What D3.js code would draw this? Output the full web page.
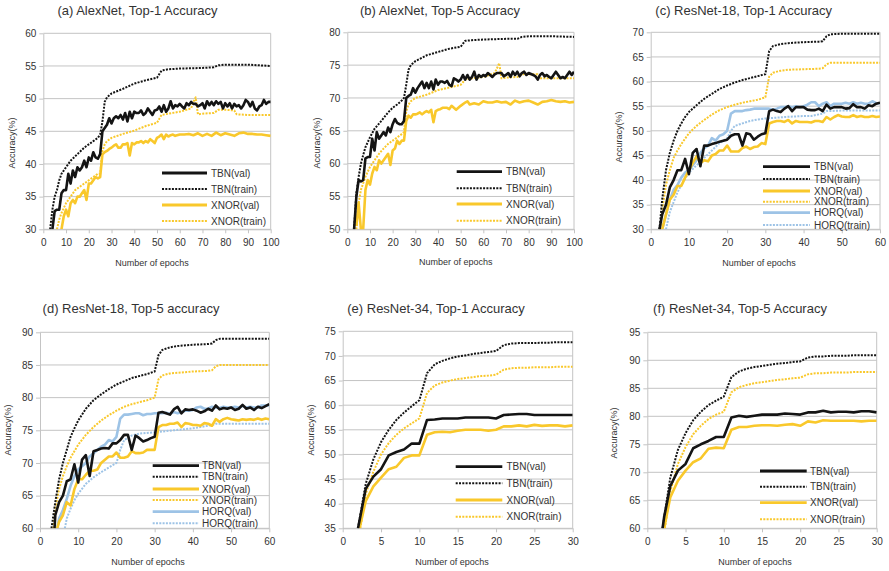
<!DOCTYPE html>
<html>
<head>
<meta charset="utf-8">
<script src="https://cdn.jsdelivr.net/npm/d3@7"></script>
<style>
  body { margin: 0; background: #fff; }
  svg { font-family: "Liberation Sans", Arial, sans-serif; }
</style>
</head>
<body>
<svg id="chart" width="889" height="571"></svg>
<script>
// [epoch, accuracy] pairs

// (a) AlexNet top-1
const aTbnVal = [[4,30],[5,32.8],[6,33],[7,33],[8,35.5],[9,36],[10,36],[11,38.5],[12,37],[13,39],[14,38],[15,39.5],[16,39],[17,39.5],[18,40.5],[19,39.5],[20,41],[21,40.5],[22,41.8],[23,41],[24,40.8],[25,41.5],[26,45],[27,45.5],[28,46],[29,47],[30,46.2],[31,47],[32,47.3],[33,47],[34,47.5],[35,46.8],[36,47.8],[37,46.5],[38,48],[39,47],[40,48],[41,47.8],[42,47.8],[43,48.2],[44,47.5],[45,47.8],[46,48.5],[47,48],[48,47.5],[49,48.2],[50,48.3],[51,48.8],[52,48],[53,49],[54,48],[55,48.5],[56,49.6],[57,48.5],[58,49],[59,48.8],[60,49.2],[61,48.8],[62,48.5],[63,49.3],[64,49],[65,49.5],[66,49.2],[67,49.2],[68,48.8],[69,49],[70,49.3],[71,48.5],[72,49.6],[73,49],[74,49.5],[75,49],[76,49.6],[77,49.2],[78,49.5],[79,48.5],[80,49.3],[81,48.8],[82,49.3],[83,48.5],[84,49.2],[85,48.8],[86,49],[87,48.5],[88,49],[89,49.8],[90,49.5],[91,48.8],[92,49.5],[93,48.5],[94,48.2],[95,48.8],[96,49],[97,49.8],[98,49.2],[99,49.5],[100,49.5]];
const aTbnTrain = [[3,30],[4,33],[5,35],[6,36],[7,37.5],[8,38.5],[10,39.5],[12,40.5],[15,41.5],[18,42.5],[20,43],[22,43.5],[24,44],[25,44.5],[26,46.5],[27,49.5],[28,50.2],[30,50.8],[35,51.5],[40,52.3],[45,52.8],[50,53.2],[52,54.3],[55,54.5],[60,54.6],[70,54.7],[75,54.8],[77,55.1],[80,55.2],[90,55.2],[100,55]];
const aXnorVal = [[8,30],[9,32],[10,33],[11,32],[12,34],[13,34.5],[14,34],[15,35],[16,35],[17,35.5],[18,36],[19,34.5],[20,37],[21,37],[22,37.5],[23,38],[24,37.8],[25,38],[26,41.5],[27,41.8],[28,42],[29,42.3],[30,42.5],[31,42.8],[32,43],[33,42.5],[34,42.5],[35,43],[36,43],[37,43.2],[38,41.3],[39,43.2],[40,43],[41,43.3],[42,43.3],[43,43.5],[44,43.2],[45,43.5],[46,43.3],[47,43.8],[48,43.5],[49,43.2],[50,44],[51,44.2],[52,44.5],[53,43.8],[54,44.5],[55,44.2],[56,44.4],[57,44.5],[58,44.3],[60,44.5],[62,44.5],[64,44.6],[66,44.4],[68,44.7],[70,44.3],[72,44.6],[74,44.3],[76,44.8],[78,44.4],[80,44.7],[82,44.5],[84,44.3],[86,44.7],[88,44.8],[90,44.6],[92,44.6],[94,44.5],[96,44.5],[98,44.4],[100,44.3]];
const aXnorTrain = [[6,30],[7,31.5],[8,32.5],[10,34],[12,35],[14,36],[16,36.5],[18,37],[20,37.5],[22,38],[24,38.5],[25,38.5],[26,42],[27,43],[28,43.5],[30,44],[35,44.6],[40,45.1],[45,45.8],[50,46.3],[52,47.5],[55,47.7],[60,48],[65,48.5],[66,49.5],[67,50.2],[68,47.6],[70,47.7],[75,47.8],[77,48.3],[80,48.3],[84,48.2],[85,47.6],[90,47.5],[100,47.5]];

// (b) AlexNet top-5
const bTbnVal = [[3,50],[4,55],[5,57.5],[6,57.3],[7,57.5],[8,60.8],[9,61],[10,61],[11,63.8],[12,62],[13,64.8],[14,63.8],[15,64.3],[16,64.8],[17,64.3],[18,65.5],[19,64.8],[20,66],[21,66.8],[22,66.2],[23,66],[24,66],[25,66.5],[26,70],[27,70.3],[28,70.5],[29,71.5],[30,70.8],[31,71.5],[32,72],[33,72.5],[34,71.5],[35,72.3],[36,71.5],[37,72.5],[38,71.3],[39,72.8],[40,72],[41,72.5],[42,72.5],[43,72.3],[44,72.6],[45,72],[46,71.8],[47,73],[48,72.8],[49,72.5],[50,72.8],[51,73.5],[52,72.8],[53,73.5],[54,72.8],[55,73.2],[56,74],[57,72.8],[58,73.5],[59,73.2],[60,73.5],[61,73.3],[62,73.8],[63,73.5],[64,73.2],[65,73.6],[66,73.8],[68,73.8],[69,73.3],[70,73.5],[71,73.8],[72,73.2],[73,74],[74,73.5],[75,74],[76,73.3],[77,73.8],[78,74],[79,73.5],[80,73.8],[82,73.5],[83,73.3],[84,72.8],[85,73.5],[86,73.8],[87,73.3],[88,73.5],[89,73.2],[90,73],[91,73.5],[92,74],[93,73.5],[94,73],[95,73.2],[96,73],[97,73.5],[98,74],[99,73.5],[100,74]];
const bTbnTrain = [[3,50],[4,55.5],[5,58],[6,60],[7,61.3],[8,62.5],[10,64],[12,65.3],[15,66.5],[18,67.8],[20,68.5],[22,69],[24,69.6],[25,70],[26,72],[27,74.3],[28,75],[30,75.6],[35,76.5],[40,77],[45,77.5],[50,77.8],[52,78.7],[55,78.8],[60,78.9],[70,79],[75,79],[77,79.3],[80,79.4],[90,79.4],[100,79.3]];
const bXnorVal = [[4,50.5],[5,54],[6,50],[7,50],[8,56],[9,57.5],[10,56.8],[11,58.5],[12,59.5],[13,59],[14,60.5],[15,60],[16,60.5],[17,61],[18,61.5],[19,59.8],[20,62],[21,62.3],[22,63.5],[23,63],[24,63.5],[25,63.5],[26,66.5],[27,67.3],[28,67],[29,67.5],[30,67.5],[31,67.6],[32,67.8],[33,67.5],[34,67.8],[35,68],[36,67.8],[37,68.2],[38,66.3],[39,68],[40,68.2],[41,68.3],[42,68.5],[44,68.5],[45,68.3],[46,68.8],[47,68.5],[48,68.2],[49,68.5],[50,68.8],[52,69.3],[53,69.5],[54,69],[56,69.2],[58,69],[60,69.5],[62,69.3],[64,69.3],[66,69.5],[68,69.3],[70,69.4],[72,69],[74,69.6],[76,69.3],[78,69.5],[80,69.6],[82,69.3],[84,69],[86,69.4],[88,69.5],[90,69.7],[92,69.5],[94,69.4],[96,69.5],[98,69.3],[100,69.4]];
const bXnorTrain = [[4,50],[5,54],[6,56],[8,58],[10,59.5],[12,60.5],[14,61.5],[16,62.3],[18,63],[20,63.5],[22,64],[24,64.5],[25,64.8],[26,68],[27,69],[28,69.5],[30,70],[35,70.5],[40,71.2],[45,71.6],[50,72],[52,72.8],[55,73],[60,73.2],[65,73.8],[66,74.5],[67,75.3],[68,73],[70,73.1],[75,73.2],[77,73.6],[80,73.6],[84,73.6],[85,73],[90,73],[100,73]];

// (c) ResNet-18 top-1
const cTbnVal = [[2.3,30],[3,33],[4,35],[5,38.5],[6,40],[7,42],[8,42],[9,44.3],[10,41.2],[11,45.5],[12,46.3],[13,42.8],[14,47],[15,47],[16,47.3],[17,47.5],[18,47.8],[19,48],[20,48.2],[21,49],[22,49.3],[23,49.3],[24,47],[25,49.5],[26,49.3],[27,48.2],[28,48.8],[29,49.3],[30,49.5],[31,54],[32,54.3],[33,54],[34,53.8],[35,54.5],[36,55],[37,54],[38,54.8],[39,54.8],[40,54.8],[41,54.3],[42,54.2],[43,54.2],[44,54.5],[45,54],[46,55.3],[47,54.5],[48,54.8],[49,54.8],[50,54.8],[51,54.5],[52,54.6],[53,55.4],[54,54.8],[55,54.8],[56,54.5],[57,55.2],[58,55],[59,55.5],[60,55.7]];
const cTbnTrain = [[2.3,30],[3,36],[4,42],[5,45.5],[6,48],[7,50],[8,51.5],[9,52.8],[10,53.8],[12,55.2],[14,56.5],[16,57.5],[18,58.5],[20,59.2],[22,59.8],[24,60.3],[26,60.7],[28,61.1],[30,61.5],[31,66.2],[32,67.2],[34,67.6],[36,67.8],[40,68],[44,68.1],[45,68.2],[46,69.2],[47,69.6],[50,69.7],[55,69.7],[60,69.7]];
const cXnorVal = [[3,30],[4,33],[5,36],[6,37],[7,38.8],[8,38.8],[9,40.5],[10,42],[11,43.5],[12,44.8],[13,43.5],[14,44],[15,43.8],[16,45],[17,45.3],[18,46],[19,46],[20,47],[21,45.8],[22,45.8],[23,45.8],[24,46.5],[25,46.8],[26,46.3],[27,46.7],[28,46.8],[29,47.5],[30,47.3],[31,51.5],[32,51.8],[33,52],[34,52],[35,51.8],[36,52.2],[37,51.5],[38,52],[39,51.8],[40,51.8],[41,51.8],[42,51.7],[43,52],[44,52],[45,51.8],[46,52.8],[47,52.3],[48,52.8],[49,53.2],[50,52.9],[51,52.8],[52,52.8],[53,53.2],[54,52.8],[55,53],[56,52.8],[57,52.8],[58,53],[59,52.8],[60,52.9]];
const cXnorTrain = [[2.5,30],[3,34],[4,39],[5,42],[6,44.5],[7,46],[8,47.3],[10,49.5],[12,51],[14,52.2],[16,53.3],[18,54.2],[20,54.8],[22,55.3],[24,55.7],[26,56],[28,56.3],[30,56.8],[31,61],[32,61.8],[34,62.2],[36,62.4],[40,62.5],[44,62.6],[45,62.7],[46,63.5],[47,63.8],[50,63.8],[55,63.8],[60,63.8]];
const cHorqVal = [[3,30],[4,33],[5,36],[6,38],[7,39],[8,40.5],[9,41.5],[10,42],[11,43],[12,44],[13,45.5],[14,46.5],[15,47],[16,48.5],[17,48],[18,49],[19,49.3],[20,50],[21,53.5],[22,54],[23,54],[24,54],[25,54.2],[26,54.3],[27,54.5],[28,54.5],[29,54.5],[30,54.5],[31,54.5],[32,54.3],[33,54.5],[34,54.8],[35,54.8],[36,55],[37,54.8],[38,55],[39,54.8],[40,55],[41,55.3],[42,55.8],[43,55.8],[44,55],[45,55.5],[46,55.8],[47,55],[48,55.5],[49,55.5],[50,55.5],[51,55.7],[52,55.5],[53,55.8],[54,55.5],[55,55.7],[56,55.5],[57,55.5],[58,56],[59,55.6],[60,55.6]];
const cHorqTrain = [[4,30],[5,33.5],[6,35.5],[7,37.5],[8,39],[10,41.5],[12,43],[14,44.5],[16,46],[18,47.5],[20,48.5],[21,50],[22,51],[24,51.5],[26,52],[28,52.3],[30,52.5],[35,52.8],[40,53],[42,53],[45,53.5],[46,54],[50,54.1],[55,54.1],[60,54.1]];

// (d) ResNet-18 top-5
const dTbnVal = [[3.8,60],[4,62],[5,64],[6,65],[7,67.2],[8,67.5],[9,69.8],[10,67],[11,70.5],[12,71.2],[13,68],[14,71.8],[15,72],[16,72.2],[17,72.3],[18,72.2],[19,73],[20,73],[21,73.5],[22,74.3],[23,74.3],[24,72],[25,74.2],[26,73.8],[27,73.3],[28,73.5],[29,73.8],[30,74],[31,77.7],[32,77.8],[33,77.6],[34,77.4],[35,78.2],[36,78.6],[37,77.6],[38,78.2],[39,78.1],[40,78.2],[41,78],[42,77.7],[43,77.9],[44,78.3],[45,78],[46,78.8],[47,78.2],[48,78.4],[49,78.3],[50,78.5],[51,78.1],[52,78.3],[53,78.9],[54,78.3],[55,78.5],[56,78.1],[57,78.6],[58,78.4],[59,78.7],[60,79]];
const dTbnTrain = [[3,60],[4,64],[5,67.5],[6,70],[7,72],[8,74],[9,75.3],[10,76.5],[12,78.3],[14,79.6],[16,80.5],[18,81.3],[20,82],[22,82.5],[24,83],[26,83.3],[28,83.6],[30,84],[31,86.5],[32,87.3],[34,87.7],[36,87.9],[40,88.1],[44,88.2],[45,88.3],[46,88.8],[47,89],[50,89],[55,89],[60,89]];
const dXnorVal = [[4.5,60],[5,61],[6,62],[7,64],[8,63.5],[9,66],[10,67.5],[11,67.5],[12,68.2],[13,68.8],[14,68.8],[15,69],[16,70],[17,70.5],[18,71],[19,71],[20,71.6],[21,70.8],[22,70.8],[23,71],[24,71.8],[25,71.5],[26,71.5],[27,71.6],[28,72],[29,72],[30,72],[31,75.5],[32,75.8],[33,75.8],[34,76],[35,76],[36,76.2],[37,75.5],[38,76.1],[39,76],[40,75.8],[41,75.8],[42,75.7],[43,76.1],[44,76],[45,75.7],[46,76.7],[47,76.3],[48,76.7],[49,76.9],[50,76.7],[51,76.6],[52,76.5],[53,76.7],[54,76.6],[55,76.7],[56,76.6],[57,76.8],[58,76.6],[59,76.8],[60,76.7]];
const dXnorTrain = [[3.5,60],[4,63],[5,66],[6,68],[7,69.5],[8,70.8],[10,72.8],[12,74.3],[14,75.5],[16,76.5],[18,77.3],[20,78],[22,78.6],[24,79],[26,79.3],[28,79.6],[30,80],[31,82.8],[32,83.4],[34,83.7],[36,83.8],[40,84],[44,84.1],[45,84.2],[46,84.8],[47,85],[50,85],[55,85],[60,85]];
const dHorqVal = [[4.5,60],[5,61.5],[6,62.8],[7,64.5],[8,66.5],[9,68],[10,69],[11,69.5],[12,70],[13,71],[14,71.5],[15,72],[16,72.5],[17,72.8],[18,73.5],[19,73.3],[20,74],[21,76.8],[22,77.4],[23,77.4],[24,77.5],[25,77.6],[26,77.6],[27,77.3],[28,77.5],[29,77.5],[30,77.6],[31,77.6],[32,77.6],[33,77.7],[34,77.5],[35,77.8],[36,77.6],[37,77.8],[38,78],[39,78],[40,78.1],[41,78.5],[42,78.6],[43,78.3],[44,78.3],[45,78.6],[46,78.5],[47,78.4],[48,78.6],[49,78.5],[50,78.5],[51,78.6],[52,78.5],[53,78.7],[54,78.5],[55,78.6],[56,78.5],[57,78.5],[58,78.8],[59,78.8],[60,78.8]];
const dHorqTrain = [[6.5,60],[7,61.5],[8,63],[9,64.3],[10,65.3],[12,66.8],[14,67.8],[16,68.6],[18,69.3],[20,70],[21,72],[22,73.5],[24,74.2],[26,74.5],[28,74.6],[30,74.7],[35,75],[40,75.3],[42,75.5],[45,75.8],[46,76],[50,76],[55,76],[60,76]];

// (e) ResNet-34 top-1
const eTbnVal = [[2,35],[3,43],[4,45.5],[5,47],[6,49.8],[7,50.5],[8,51],[9,52.2],[10,52.2],[11,57],[12,57.1],[13,57.3],[14,57.3],[15,57.3],[16,57.5],[17,57.5],[18,57.5],[19,57.5],[20,57.3],[21,58],[22,58.1],[23,58.2],[24,58.2],[25,58],[26,58],[27,58],[28,58],[29,58],[30,58]];
const eTbnTrain = [[2,35],[3,44],[4,49],[5,52.5],[6,55],[7,57],[8,58.5],[9,59.8],[10,61],[11,66.5],[12,68.3],[13,69],[14,69.5],[15,69.9],[16,70.1],[17,70.4],[18,70.6],[19,70.8],[20,71],[21,72.2],[22,72.5],[23,72.6],[24,72.6],[25,72.6],[26,72.7],[27,72.7],[28,72.8],[29,72.8],[30,72.8]];
const eXnorVal = [[2.2,35],[3,40.5],[4,43.5],[5,45.3],[6,47],[7,47.5],[8,49.3],[9,49.8],[10,49.8],[11,54],[12,54.5],[13,54.6],[14,54.5],[15,54.8],[16,55],[17,55],[18,55],[19,54.8],[20,55],[21,55.7],[22,55.7],[23,55.9],[24,55.7],[25,56],[26,55.8],[27,55.9],[28,55.9],[29,55.7],[30,55.9]];
const eXnorTrain = [[2.3,35],[3,42],[4,46.5],[5,50],[6,52.3],[7,54],[8,55.3],[9,56.3],[10,57.3],[11,62.5],[12,64],[13,64.6],[14,65],[15,65.3],[16,65.5],[17,65.7],[18,65.9],[19,66],[20,66.2],[21,67.2],[22,67.5],[23,67.6],[24,67.6],[25,67.7],[26,67.7],[27,67.7],[28,67.8],[29,67.8],[30,67.8]];

// (f) ResNet-34 top-5
const fTbnVal = [[2,60],[2.2,62],[3,67.5],[4,70.3],[5,71.5],[6,74.3],[7,75],[8,75.6],[9,76.3],[10,76.3],[11,79.8],[12,80.1],[13,79.9],[14,80.1],[15,80.3],[16,80.3],[17,80.3],[18,80.5],[19,80.4],[20,80.3],[21,80.7],[22,80.7],[23,81],[24,80.7],[25,80.8],[26,80.8],[27,80.7],[28,80.9],[29,80.9],[30,80.7]];
const fTbnTrain = [[2,60],[3,69],[4,74],[5,77],[6,79.3],[7,80.8],[8,82],[9,82.8],[10,83.5],[11,87],[12,88],[13,88.5],[14,88.8],[15,89],[16,89.2],[17,89.4],[18,89.5],[19,89.7],[20,89.8],[21,90.5],[22,90.7],[23,90.7],[24,90.8],[25,90.8],[26,90.8],[27,90.9],[28,90.9],[29,90.9],[30,90.9]];
const fXnorVal = [[2.2,60],[3,65.5],[4,68.5],[5,70.3],[6,71.8],[7,72.5],[8,74.2],[9,74.4],[10,74.3],[11,77.6],[12,78.1],[13,78.1],[14,78.3],[15,78.4],[16,78.4],[17,78.3],[18,78.5],[19,78.6],[20,78.3],[21,79.1],[22,78.9],[23,79.3],[24,79.2],[25,79.2],[26,79.2],[27,79.2],[28,79.1],[29,79.2],[30,79.2]];
const fXnorTrain = [[2.3,60],[3,66.5],[4,71.5],[5,74.5],[6,76.8],[7,78.3],[8,79.5],[9,80.3],[10,80.8],[11,84.3],[12,85.2],[13,85.6],[14,85.9],[15,86.1],[16,86.3],[17,86.5],[18,86.6],[19,86.8],[20,86.9],[21,87.5],[22,87.7],[23,87.7],[24,87.8],[25,87.8],[26,87.8],[27,87.9],[28,87.9],[29,87.9],[30,87.9]];

const titles = ['(a) AlexNet, Top-1 Accuracy', '(b) AlexNet, Top-5 Accuracy', '(c) ResNet-18, Top-1 Accuracy',
  '(d) ResNet-18, Top-5 accuracy', '(e) ResNet-34, Top-1 Accuracy', '(f) ResNet-34, Top-5 Accuracy'];
const xMaxes = [100, 100, 60, 60, 30, 30];
const xSteps = [10, 10, 10, 10, 5, 5];
const yRanges = [[30, 60], [50, 80], [30, 70], [60, 90], [35, 75], [60, 95]];
const seriesNames = ['TBN(val)', 'TBN(train)', 'XNOR(val)', 'XNOR(train)', 'HORQ(val)', 'HORQ(train)'];
const panelData = [
  [aTbnVal, aTbnTrain, aXnorVal, aXnorTrain],
  [bTbnVal, bTbnTrain, bXnorVal, bXnorTrain],
  [cTbnVal, cTbnTrain, cXnorVal, cXnorTrain, cHorqVal, cHorqTrain],
  [dTbnVal, dTbnTrain, dXnorVal, dXnorTrain, dHorqVal, dHorqTrain],
  [eTbnVal, eTbnTrain, eXnorVal, eXnorTrain],
  [fTbnVal, fTbnTrain, fXnorVal, fXnorTrain],
];

// layout (pixels)
const boxes = [
  { l: 43.3, r: 270.7, t: 33.3, b: 229.3, tx: 137.5, ty: 15, yl: [12, 143], xl: [152, 263], lg: { x0: 162, x1: 207, tx: 211, ys: [173, 189, 205, 221] } },
  { l: 347.3, r: 574, t: 32.3, b: 229.3, tx: 440, ty: 15, yl: [316.7, 143], xl: [455.7, 262], lg: { x0: 456.7, x1: 502, tx: 506, ys: [171.7, 188.3, 204, 220.7] } },
  { l: 650.7, r: 880, t: 32.3, b: 229.3, tx: 743.7, ty: 15, yl: [619, 137], xl: [759, 263], lg: { x0: 763, x1: 810, tx: 814, ys: [166.7, 179, 191, 201.7, 212.7, 225] } },
  { l: 40, r: 269.3, t: 332.3, b: 528.3, tx: 131, ty: 313.3, yl: [8.3, 430], xl: [148, 561.7], lg: { x0: 152.7, x1: 199, tx: 202, ys: [465.7, 476.7, 489, 500, 511.7, 523.3] } },
  { l: 342.7, r: 572.7, t: 331.3, b: 528.3, tx: 436, ty: 313.3, yl: [310.7, 430], xl: [452, 561.7], lg: { x0: 455.7, x1: 502.3, tx: 506.5, ys: [466.7, 483.3, 500, 516.7] } },
  { l: 647.3, r: 876.7, t: 332.3, b: 528.3, tx: 740, ty: 313.3, yl: [614, 433], xl: [755, 561.7], lg: { x0: 760, x1: 806.7, tx: 810, ys: [471, 486.7, 502.7, 519.3] } },
];

const colors = ['#141414', '#141414', '#f9c82b', '#f9c82b', '#9dc3e6', '#9dc3e6'];
const textColor = '#333';
const gridColor = '#c4c4c4';

const svg = d3.select('#chart');

boxes.forEach((box, p) => {
  const g = svg.append('g');
  const x = d3.scaleLinear().domain([0, xMaxes[p]]).range([box.l, box.r]);
  const y = d3.scaleLinear().domain(yRanges[p]).range([box.b, box.t]);
  const yTicks = d3.range(yRanges[p][0], yRanges[p][1] + 0.1, 5);
  const xTicks = d3.range(0, xMaxes[p] + 0.1, xSteps[p]);

  g.append('g').selectAll('line').data(yTicks).join('line')
    .attr('x1', box.l).attr('x2', box.r)
    .attr('y1', d => y(d)).attr('y2', d => y(d))
    .attr('stroke', gridColor).attr('stroke-width', 1);
  g.append('line').attr('x1', box.r).attr('x2', box.r).attr('y1', box.t).attr('y2', box.b)
    .attr('stroke', gridColor);

  const yAxis = g.append('g').attr('transform', `translate(${box.l},0)`)
    .call(d3.axisLeft(y).tickValues(yTicks).tickSize(4).tickPadding(3).tickSizeOuter(0));
  const xAxis = g.append('g').attr('transform', `translate(0,${box.b})`)
    .call(d3.axisBottom(x).tickValues(xTicks).tickSize(4).tickPadding(6).tickSizeOuter(0));
  [yAxis, xAxis].forEach(ax => {
    ax.select('.domain').attr('stroke', gridColor);
    ax.selectAll('.tick line').attr('stroke', gridColor);
    ax.selectAll('.tick text').attr('fill', textColor).attr('font-size', 10)
      .attr('font-family', '"Liberation Sans", Arial, sans-serif');
  });

  const clipId = `clip${p}`;
  svg.append('clipPath').attr('id', clipId).append('rect')
    .attr('x', box.l).attr('y', box.t - 2).attr('width', box.r - box.l).attr('height', box.b - box.t + 2);

  const line = d3.line().x(d => x(d[0])).y(d => y(d[1]));
  const series = panelData[p];
  // dotted train lines first, solid val lines on top
  const order = d3.range(series.length).sort((i, j) => (j % 2) - (i % 2) || j - i);
  const plot = g.append('g').attr('clip-path', `url(#${clipId})`);
  order.forEach(i => {
    plot.append('path').datum(series[i])
      .attr('d', line)
      .attr('fill', 'none')
      .attr('stroke', colors[i])
      .attr('stroke-width', i % 2 ? 2 : 2.6)
      .attr('stroke-dasharray', i % 2 ? '2,1.3' : null)
      .attr('stroke-linejoin', 'round');
  });

  // legend
  series.forEach((s, i) => {
    const ly = box.lg.ys[i];
    g.append('line').attr('x1', box.lg.x0).attr('x2', box.lg.x1).attr('y1', ly).attr('y2', ly)
      .attr('stroke', colors[i])
      .attr('stroke-width', i % 2 ? 2 : 2.8)
      .attr('stroke-dasharray', i % 2 ? '2,1.3' : null);
    g.append('text').attr('x', box.lg.tx).attr('y', ly).attr('dy', '0.35em')
      .attr('font-size', 10).attr('fill', textColor).text(seriesNames[i]);
  });

  g.append('text').attr('x', box.tx).attr('y', box.ty).attr('text-anchor', 'middle')
    .attr('font-size', 13).attr('fill', textColor).text(titles[p]);
  g.append('text').attr('transform', `translate(${box.yl[0]},${box.yl[1]}) rotate(-90)`)
    .attr('text-anchor', 'middle').attr('dy', '0.35em')
    .attr('font-size', 9).attr('fill', textColor).text('Accuracy(%)');
  g.append('text').attr('x', box.xl[0]).attr('y', box.xl[1]).attr('text-anchor', 'middle').attr('dy', '0.35em')
    .attr('font-size', 9).attr('fill', textColor).text('Number of epochs');
});
</script>
</body>
</html>
